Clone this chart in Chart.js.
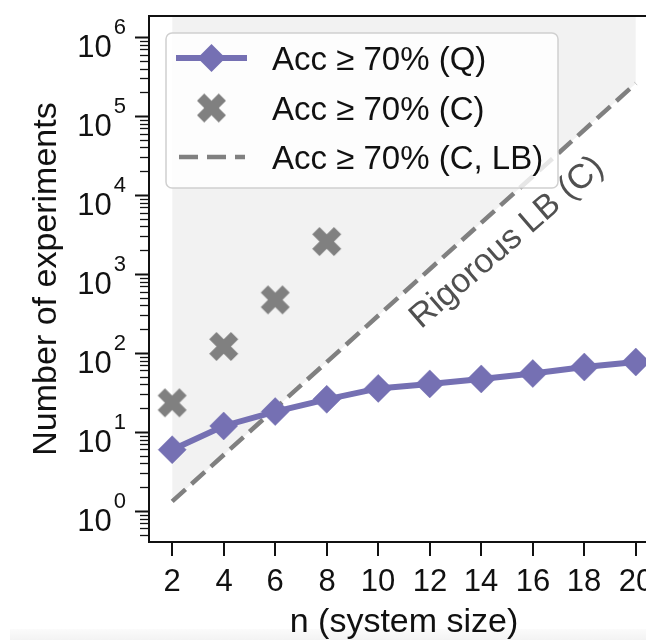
<!DOCTYPE html>
<html><head><meta charset="utf-8">
<script src="https://cdn.jsdelivr.net/npm/chart.js@4"></script>
<style>
html,body{margin:0;padding:0;background:#fff;overflow:hidden;width:646px;height:640px;}
#wrap{position:relative;width:646px;height:640px;overflow:hidden;background:#fff;}
canvas{position:absolute;left:0;top:0;z-index:2;}
#band{position:absolute;left:10px;top:629px;width:636px;height:11px;background:linear-gradient(#fbfbfb,#f3f3f3);z-index:1;}
</style></head><body>
<div id="wrap"><div id="band"></div><canvas id="c" width="700" height="640"></canvas></div>
<script>
// ---- data ----
const nValues = [2, 4, 6, 8, 10, 12, 14, 16, 18, 20];
const quantumValues = [5.96, 11.9, 18.1, 25.9, 35.6, 40.6, 46.9, 54.9, 66.4, 76.8];
const classicalN = [2, 4, 6, 8];
const classicalValues = [23.4, 121, 471, 2580];
const lowerBoundN = [2, 20];
const lowerBoundValues = [1.32, 2.59e5];
const xTickValues = [2, 4, 6, 8, 10, 12, 14, 16, 18, 20];
const yDecadeExponents = [0, 1, 2, 3, 4, 5, 6];
const seriesLabels = ['Acc \u2265 70% (Q)', 'Acc \u2265 70% (C)', 'Acc \u2265 70% (C, LB)'];
const xTitle = 'n (system size)';
const yTitle = 'Number of experiments';
const annotationText = 'Rigorous LB (C)';

const PURPLE = '#7570b3';
const GRAY = '#808080';
const FONT = '"Liberation Sans", Arial, sans-serif';

function makeX(size, color) {
  const c = document.createElement('canvas');
  c.width = c.height = size + 2;
  const g = c.getContext('2d');
  const pts = [[-1,-2],[0,-1],[1,-2],[2,-1],[1,0],[2,1],[1,2],[0,1],[-1,2],[-2,1],[-1,0],[-2,-1]];
  const s = size / 4, cx = (size + 2) / 2;
  g.beginPath();
  pts.forEach((p, i) => { const x = cx + p[0]*s, y = cx + p[1]*s; i ? g.lineTo(x, y) : g.moveTo(x, y); });
  g.closePath();
  g.fillStyle = color;
  g.fill();
  return c;
}
const xImg = makeX(29, GRAY);

const decor = {
  id: 'decor',
  afterDatasetsDraw(chart) {
    const ctx = chart.ctx;
    const a = chart.chartArea;
    const xs = chart.scales.x, ys = chart.scales.y;
    ctx.save();
    ctx.fillStyle = '#111';
    ctx.strokeStyle = '#111';
    // spines
    ctx.lineWidth = 2;
    ctx.beginPath();
    ctx.moveTo(a.left, a.top); ctx.lineTo(a.left, a.bottom);
    ctx.moveTo(a.left - 1, a.top); ctx.lineTo(a.right, a.top);
    ctx.moveTo(a.left - 1, a.bottom); ctx.lineTo(a.right, a.bottom);
    ctx.moveTo(a.right, a.top); ctx.lineTo(a.right, a.bottom);
    ctx.stroke();
    // y ticks (log)
    for (let k = -1; k <= 6; k++) {
      for (let m = 1; m <= 9; m++) {
        const v = m * Math.pow(10, k);
        if (v < ys.min || v > ys.max) continue;
        const y = Math.round(ys.getPixelForValue(v)) + 0.5;
        ctx.lineWidth = m === 1 ? 2 : 1.3;
        const len = m === 1 ? 14 : 9;
        ctx.beginPath();
        ctx.moveTo(a.left - len, y); ctx.lineTo(a.left, y);
        ctx.stroke();
      }
    }
    // y tick labels 10^k
    yDecadeExponents.forEach(k => {
      const y = ys.getPixelForValue(Math.pow(10, k));
      const right = a.left - 23;
      ctx.font = '22px ' + FONT;
      ctx.textAlign = 'right';
      ctx.textBaseline = 'alphabetic';
      const ew = ctx.measureText(String(k)).width;
      ctx.fillText(String(k), right, y - 3);
      ctx.font = '31px ' + FONT;
      ctx.fillText('10', right - ew - 2, y + 20);
    });
    // x ticks
    ctx.lineWidth = 2;
    ctx.font = '31px ' + FONT;
    ctx.textAlign = 'center';
    xTickValues.forEach(v => {
      const x = Math.round(xs.getPixelForValue(v));
      ctx.beginPath();
      ctx.moveTo(x, a.bottom); ctx.lineTo(x, a.bottom + 14);
      ctx.stroke();
      ctx.fillText(String(v), x, a.bottom + 49);
    });
    // axis titles
    ctx.font = '34px ' + FONT;
    ctx.textAlign = 'center';
    ctx.fillText(xTitle, (a.left + a.right) / 2, 632);
    ctx.save();
    ctx.translate(56, (a.top + a.bottom) / 2);
    ctx.rotate(-Math.PI / 2);
    ctx.fillText(yTitle, 0, 0);
    ctx.restore();
    // rotated annotation along the lower bound
    const x1 = xs.getPixelForValue(lowerBoundN[0]), y1 = ys.getPixelForValue(lowerBoundValues[0]);
    const x2 = xs.getPixelForValue(lowerBoundN[1]), y2 = ys.getPixelForValue(lowerBoundValues[1]);
    const ang = Math.atan2(y2 - y1, x2 - x1);
    ctx.save();
    ctx.translate(xs.getPixelForValue(15.0), ys.getPixelForValue(2500));
    ctx.rotate(ang + 0.02);
    ctx.fillStyle = '#505050';
    ctx.font = '34px ' + FONT;
    ctx.textAlign = 'center';
    ctx.textBaseline = 'middle';
    ctx.fillText(annotationText, 0, 0);
    ctx.restore();
    // legend
    const L = a.left + 17, T = a.top + 17;
    ctx.beginPath();
    ctx.roundRect(L, T, 392, 155, 6);
    ctx.fillStyle = 'rgba(255,255,255,0.8)';
    ctx.fill();
    ctx.strokeStyle = '#d0d0d0';
    ctx.lineWidth = 1.5;
    ctx.stroke();
    const sx0 = L + 10, sx1 = L + 81, scx = (sx0 + sx1) / 2;
    const rows = [T + 25, T + 75, T + 124];
    // row 1
    ctx.strokeStyle = PURPLE; ctx.fillStyle = PURPLE; ctx.lineWidth = 6;
    ctx.beginPath(); ctx.moveTo(sx0, rows[0]); ctx.lineTo(sx1, rows[0]); ctx.stroke();
    ctx.beginPath();
    ctx.moveTo(scx - 14, rows[0]); ctx.lineTo(scx, rows[0] - 14);
    ctx.lineTo(scx + 14, rows[0]); ctx.lineTo(scx, rows[0] + 14);
    ctx.closePath(); ctx.fill();
    // row 2
    ctx.drawImage(xImg, scx - xImg.width / 2, rows[1] - xImg.height / 2);
    // row 3
    ctx.strokeStyle = GRAY; ctx.lineWidth = 4.5;
    ctx.setLineDash([19, 9]);
    ctx.beginPath(); ctx.moveTo(sx0 + 3, rows[2]); ctx.lineTo(sx1 - 2, rows[2]); ctx.stroke();
    ctx.setLineDash([]);
    // texts
    ctx.fillStyle = '#111';
    ctx.font = '33px ' + FONT;
    ctx.textAlign = 'left';
    ctx.textBaseline = 'alphabetic';
    seriesLabels.forEach((t, i) => ctx.fillText(t, L + 106, rows[i] + 12));
    ctx.restore();
  }
};

new Chart(document.getElementById('c'), {
  type: 'line',
  data: {
    datasets: [
      {
        label: seriesLabels[0],
        data: nValues.map((n, i) => ({ x: n, y: quantumValues[i] })),
        borderColor: PURPLE, backgroundColor: PURPLE, borderWidth: 6,
        pointStyle: 'rectRot', pointRadius: 14, pointHoverRadius: 14,
        pointBorderWidth: 0.5, pointBackgroundColor: PURPLE, pointBorderColor: PURPLE,
        fill: false, tension: 0, order: 0
      },
      {
        label: seriesLabels[1],
        data: classicalN.map((n, i) => ({ x: n, y: classicalValues[i] })),
        showLine: false, pointStyle: xImg, pointRadius: 15,
        borderColor: GRAY, backgroundColor: GRAY, order: 1
      },
      {
        label: seriesLabels[2],
        data: lowerBoundN.map((n, i) => ({ x: n, y: lowerBoundValues[i] })),
        borderColor: GRAY, borderDash: [18, 8], borderWidth: 4.5,
        pointRadius: 0, fill: 'end', backgroundColor: '#f2f2f2', order: 2, tension: 0
      }
    ]
  },
  options: {
    responsive: false, animation: false, events: [],
    layout: { padding: { left: 149, top: 12, bottom: 98, right: 41 } },
    scales: {
      x: { type: 'linear', min: 1.1, max: 20.9, display: false },
      y: { type: 'logarithmic', min: 0.404, max: 1.85e6, display: false }
    },
    plugins: { legend: { display: false }, tooltip: { enabled: false } }
  },
  plugins: [decor]
});
</script>
</body></html>
